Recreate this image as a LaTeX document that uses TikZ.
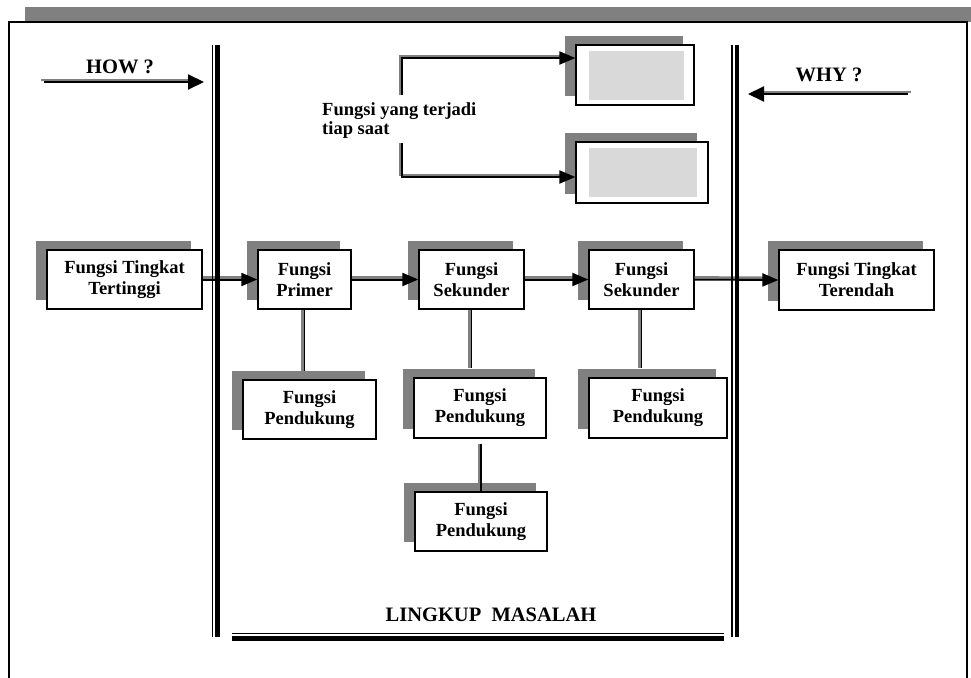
\documentclass[tikz,border=0pt]{standalone}
\usepackage{fontspec}
\setmainfont{Liberation Serif}
\usetikzlibrary{arrows.meta,shadows}
\definecolor{shd}{HTML}{808080}
\definecolor{lgray}{HTML}{D9D9D9}
\begin{document}
\begin{tikzpicture}[x=1pt,y=-1pt,
  box/.style={draw=black, line width=1.3pt, fill=white, align=center, inner sep=0pt,
    font=\bfseries\fontsize{18.5}{21}\selectfont,
    general shadow={fill=shd, shadow xshift=-11pt, shadow yshift=9pt}},
  lbl/.style={font=\bfseries\fontsize{18.5}{19}\selectfont, inner sep=0pt},
  biglbl/.style={font=\bfseries\fontsize{20.5}{22}\selectfont, inner sep=0pt},
  ashade/.style={draw=shd, line width=2.4pt},
  aline/.style={draw=black, line width=2pt, -{Triangle[length=16pt,width=13pt]}},
  bline/.style={draw=black, line width=2pt, -{Triangle[length=16pt,width=15pt]}},
  cline/.style={draw=black, line width=1.8pt},
  thinbar/.style={draw=black, line width=1.5pt},
  thickbar/.style={draw=black, line width=4.8pt},
]
\useasboundingbox (0,0) rectangle (971,677);
\begin{scope}
\clip (0,0) rectangle (971,677);
% outer frame
\fill[shd] (25,7) rectangle (971,22);
\draw[line width=2pt] (9,700) -- (9,22) -- (967,22) -- (967,700);
\end{scope}

% main row
\node[box, minimum width=155pt, minimum height=59pt] (t1) at (124.5,279.5) {Fungsi Tingkat\\Tertinggi};
\node[box, minimum width=93pt, minimum height=59pt] (prim) at (304.5,279.5) {Fungsi\\Primer};
\node[box, minimum width=105pt, minimum height=59pt] (sek1) at (471.5,279.5) {Fungsi\\Sekunder};
\node[box, minimum width=105pt, minimum height=59pt] (sek2) at (641.5,279.5) {Fungsi\\Sekunder};
\node[box, minimum width=155pt, minimum height=60pt] (t2) at (856.5,280) {Fungsi Tingkat\\Terendah};

% support boxes
\node[box, minimum width=133pt, minimum height=59pt] (p1) at (309.5,409.5) {Fungsi\\Pendukung};
\node[box, minimum width=132pt, minimum height=60pt] (p2) at (480,408) {Fungsi\\Pendukung};
\node[box, minimum width=132pt, minimum height=59pt] (p3) at (481,521.5) {Fungsi\\Pendukung};
\node[box, minimum width=138pt, minimum height=60pt] (p4) at (658,408) {Fungsi\\Pendukung};

% top right boxes
\node[box, minimum width=118pt, minimum height=60pt] (b1) at (635,75) {};
\node[box, minimum width=132pt, minimum height=61pt] (b2) at (642,172.5) {};
\fill[lgray] ([shift={(14pt,-7pt)}]b1.north west) rectangle ([shift={(-11pt,6pt)}]b1.south east);
\fill[lgray] ([shift={(14pt,-7pt)}]b2.north west) rectangle ([shift={(-12pt,7pt)}]b2.south east);

% labels
\node[biglbl] (how) at (120,67) {HOW ?};
\node[biglbl] (why) at (829,75) {WHY ?};
\node[lbl, anchor=west, align=left] (fy) at (322,121) {Fungsi yang terjadi\\tiap saat};
\node[biglbl] (lm) at (491,615) {LINGKUP\ \ MASALAH};

% HOW / WHY arrows
\coordinate (h0) at (41,82);
\coordinate (h1) at (204,82);
\coordinate (w0) at (911,94);
\coordinate (w1) at (748,94);
\draw[ashade, shorten >=12pt] ([yshift=2.2pt]h0) -- ([yshift=2.2pt]h1);
\draw[bline] ([xshift=3pt]h0) -- (h1);
\draw[ashade, shorten >=12pt] ([yshift=2.2pt]w0) -- ([yshift=2.2pt]w1);
\draw[bline] ([xshift=-3pt]w0) -- (w1);

% bracket arrows
\coordinate (f1) at (402,95);
\coordinate (f2) at (402,143);
\draw[ashade, shorten >=10pt] ([shift={(-2pt,0pt)}]f1) |- ([yshift=19.2pt]b1.west);
\draw[aline] (f1) |- ([yshift=17pt]b1.west);
\draw[ashade, shorten >=10pt] ([shift={(-2pt,0pt)}]f2) |- ([yshift=-2.3pt]b2.west);
\draw[aline] (f2) |- ([yshift=-4.5pt]b2.west);

% horizontal arrows in main row
\foreach \a/\b in {t1/prim, prim/sek1, sek1/sek2, sek2/t2}{
  \draw[ashade, shorten >=10pt] ([yshift=2.2pt]\a.east) -- ([yshift=2.2pt]\b.west);
  \draw[aline] (\a.east) -- (\b.west);
}

% vertical connectors
\coordinate (p1t) at ([yshift=8pt]p1.north);
\coordinate (p2t) at ([yshift=9pt]p2.north);
\coordinate (p4t) at ([yshift=9pt]p4.north);
\coordinate (p2b) at ([yshift=-5pt]p2.south);
\draw[ashade] ([xshift=-2.2pt]prim.south) -- ([xshift=-2.2pt]prim.south |- p1t);
\draw[cline] (prim.south) -- (prim.south |- p1t);
\draw[ashade] ([xshift=-2.2pt]sek1.south) -- ([xshift=-2.2pt]sek1.south |- p2t);
\draw[cline] (sek1.south) -- (sek1.south |- p2t);
\draw[ashade] ([xshift=-2.2pt]sek2.south) -- ([xshift=-2.2pt]sek2.south |- p4t);
\draw[cline] (sek2.south) -- (sek2.south |- p4t);
\draw[ashade] ([xshift=-2.2pt]p3.north |- p2b) -- ([xshift=-2.2pt]p3.north);
\draw[cline] (p3.north |- p2b) -- (p3.north);

% scope boundary lines
\coordinate (la) at (212.5,45);
\coordinate (lb) at (212.5,637);
\coordinate (ra) at (732,45);
\coordinate (rb) at (732,637);
\draw[thinbar] (la) -- (lb);
\draw[thickbar] ([xshift=5pt]la) -- ([xshift=5pt]lb);
\draw[thinbar] (ra) -- (rb);
\draw[thickbar] ([xshift=5pt]ra) -- ([xshift=5pt]rb);
\coordinate (ba) at (232,633.5);
\coordinate (bb) at (724,633.5);
\draw[thinbar] (ba) -- (bb);
\draw[thickbar] ([yshift=-5pt]ba) -- ([yshift=-5pt]bb);
\end{tikzpicture}
\end{document}
